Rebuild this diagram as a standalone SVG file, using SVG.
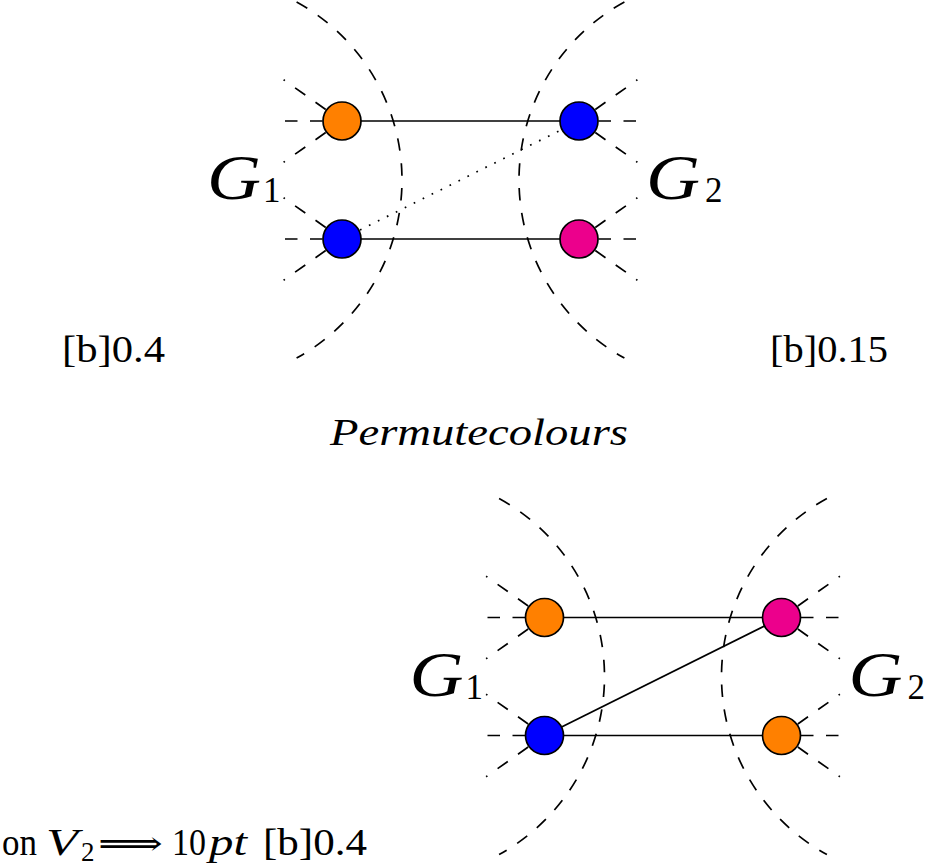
<svg xmlns="http://www.w3.org/2000/svg" width="945" height="868" viewBox="0 0 945 868">
<style>
.arc{fill:none;stroke:#000;stroke-width:1.7;stroke-dasharray:12.5 12.5}
.stub{fill:none;stroke:#000;stroke-width:1.7;stroke-dasharray:12.5 12.5}
.edge{fill:none;stroke:#000;stroke-width:1.7}
.dot{fill:none;stroke:#000;stroke-width:1.7;stroke-dasharray:1.7 8.3}
.n{stroke:#000;stroke-width:1.7}
.or{fill:#FF8000}.bl{fill:#0000FF}.pk{fill:#EC008C}
.t{font-family:'Liberation Serif',serif;fill:#000}
.a{font-family:'DejaVu Serif',serif;fill:#000}
.i{font-style:italic}
</style>
<rect width="945" height="868" fill="#fff"/>
<g id="arcs">
<path class="arc" d="M296.6,2 A203,203 0 0 1 296.6,358"/>
<path class="arc" d="M624.4,2 A203,203 0 0 0 624.4,358"/>
<path class="arc" d="M499.1,498.5 A203,203 0 0 1 499.1,854.5"/>
<path class="arc" d="M826.9,498.5 A203,203 0 0 0 826.9,854.5"/>
</g>
<g id="connectors">
<line class="edge" x1="342" y1="121" x2="579" y2="121"/>
<line class="edge" x1="342" y1="239" x2="579" y2="239"/>
<line class="dot" x1="360" y1="230" x2="579" y2="121"/>
<line class="edge" x1="544.5" y1="617.5" x2="781.5" y2="617.5"/>
<line class="edge" x1="544.5" y1="735.5" x2="781.5" y2="617.5"/>
<line class="edge" x1="544.5" y1="735.5" x2="781.5" y2="735.5"/>
</g>
<g id="top-L1">
<path class="stub" d="M322.5,121 H285 M325.7,109.5 L283.6,79.7 M325.7,132.5 L283.6,162.3"/>
<circle class="n or" cx="342" cy="121" r="19"/>
</g>
<g id="top-L2">
<path class="stub" d="M322.5,239 H285 M325.7,227.5 L283.6,197.7 M325.7,250.5 L283.6,280.3"/>
<circle class="n bl" cx="342" cy="239" r="19"/>
</g>
<g id="top-R1">
<path class="stub" d="M598.5,121 H636 M595.3,109.5 L637.4,79.7 M595.3,132.5 L637.4,162.3"/>
<circle class="n bl" cx="579" cy="121" r="19"/>
</g>
<g id="top-R2">
<path class="stub" d="M598.5,239 H636 M595.3,227.5 L637.4,197.7 M595.3,250.5 L637.4,280.3"/>
<circle class="n pk" cx="579" cy="239" r="19"/>
</g>
<g id="bot-L1">
<path class="stub" d="M525,617.5 H487.5 M528.2,606 L486.1,576.2 M528.2,629 L486.1,658.8"/>
<circle class="n or" cx="544.5" cy="617.5" r="19"/>
</g>
<g id="bot-L2">
<path class="stub" d="M525,735.5 H487.5 M528.2,724 L486.1,694.2 M528.2,747 L486.1,776.8"/>
<circle class="n bl" cx="544.5" cy="735.5" r="19"/>
</g>
<g id="bot-R1">
<path class="stub" d="M801,617.5 H838.5 M797.8,606 L839.9,576.2 M797.8,629 L839.9,658.8"/>
<circle class="n pk" cx="781.5" cy="617.5" r="19"/>
</g>
<g id="bot-R2">
<path class="stub" d="M801,735.5 H838.5 M797.8,724 L839.9,694.2 M797.8,747 L839.9,776.8"/>
<circle class="n or" cx="781.5" cy="735.5" r="19"/>
</g>
<g id="labels">
<text class="t i" x="207" y="199" font-size="64" textLength="54" lengthAdjust="spacingAndGlyphs">G</text>
<text class="t" x="263" y="202" font-size="35">1</text>
<text class="t i" x="646" y="199" font-size="64" textLength="54" lengthAdjust="spacingAndGlyphs">G</text>
<text class="t" x="705" y="202" font-size="35">2</text>
<text class="t i" x="409.5" y="695.5" font-size="64" textLength="54" lengthAdjust="spacingAndGlyphs">G</text>
<text class="t" x="465.5" y="698.5" font-size="35">1</text>
<text class="t i" x="848.5" y="695.5" font-size="64" textLength="54" lengthAdjust="spacingAndGlyphs">G</text>
<text class="t" x="907.5" y="698.5" font-size="35">2</text>
<text class="t" x="62" y="362" font-size="38" textLength="103" lengthAdjust="spacingAndGlyphs">[b]0.4</text>
<text class="t" x="770" y="362" font-size="38" textLength="118" lengthAdjust="spacingAndGlyphs">[b]0.15</text>
<text class="t i" x="330" y="445" font-size="37" textLength="298" lengthAdjust="spacingAndGlyphs">Permutecolours</text>
<text class="t" x="2" y="855" font-size="38" textLength="35" lengthAdjust="spacingAndGlyphs">on</text>
<text class="t i" x="46" y="855" font-size="38" textLength="32" lengthAdjust="spacingAndGlyphs">V</text>
<text class="t" x="81" y="861" font-size="27">2</text>
<text class="a" x="98" y="855" font-size="34" textLength="65" lengthAdjust="spacingAndGlyphs">⟹</text>
<text class="t" x="172" y="855" font-size="38" textLength="34" lengthAdjust="spacingAndGlyphs">10</text>
<text class="t i" x="209" y="855" font-size="38" textLength="38" lengthAdjust="spacingAndGlyphs">pt</text>
<text class="t" x="263" y="855" font-size="38" textLength="104" lengthAdjust="spacingAndGlyphs">[b]0.4</text>
</g>
</svg>
